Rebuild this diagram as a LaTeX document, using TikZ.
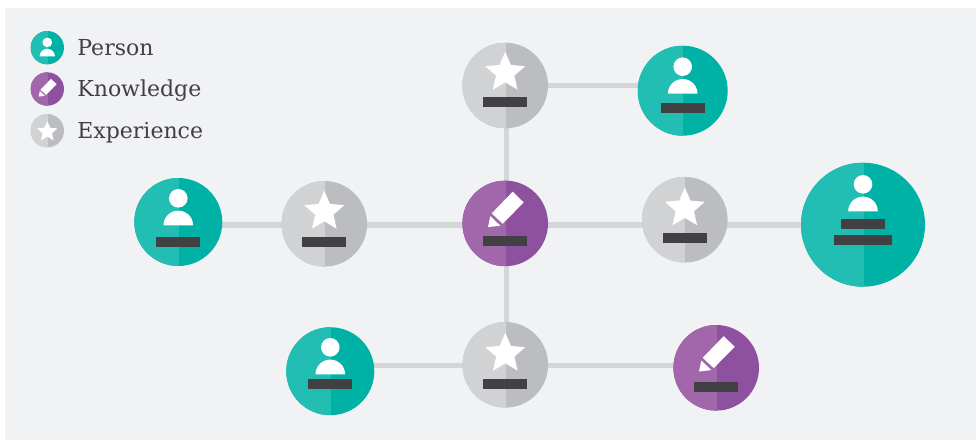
\documentclass[tikz,border=0pt]{standalone}
\usepackage{fontspec}
\setmainfont{DejaVu Serif}
\usetikzlibrary{positioning, backgrounds}

\definecolor{tealA}{HTML}{22BDB3}
\definecolor{tealB}{HTML}{00B2A5}
\definecolor{plumA}{HTML}{A266AB}
\definecolor{plumB}{HTML}{8E519F}
\definecolor{greyA}{HTML}{D1D2D4}
\definecolor{greyB}{HTML}{BCBDC0}
\definecolor{linkgrey}{HTML}{D5D6D8}
\definecolor{darkbar}{HTML}{414042}
\definecolor{panel}{HTML}{F1F2F4}

\tikzset{halfdisc/.style 2 args={circle,inner sep=0pt,fill=#2,path picture={
  \fill[#1] (path picture bounding box.south west) rectangle ([xshift=.5pt]path picture bounding box.north);}}}
\tikzset{person/.style={halfdisc={tealA}{tealB}}}
\tikzset{knowledge/.style={halfdisc={plumA}{plumB}}}
\tikzset{experience/.style={halfdisc={greyA}{greyB}}}
\tikzset{link/.style={draw=linkgrey,line width=5.5pt}}
\tikzset{barbox/.style={fill=darkbar,inner sep=0pt,minimum height=10pt,minimum width=#1}, barbox/.default=44pt}
\tikzset{legendtext/.style={text=darkbar,font=\fontsize{22}{24}\selectfont,inner sep=0pt,text height=14.6pt,text depth=0pt}}

% node, shift, scale
\newcommand{\personicon}[3]{\begin{scope}[shift={(#1.center)},yshift=#2pt,scale=#3]
  \fill[white] (0,0) circle (9.3);
  \fill[white] (-14.8,-27) arc (180:0:14.8 and 14.7) -- cycle;
\end{scope}}
\newcommand{\pencilicon}[3]{\begin{scope}[shift={(#1.center)},yshift=#2pt,scale=#3]
  \fill[white] (7.5,31.7) -- (18.5,21) -- (-2.5,-.3) -- (-13.5,10) -- cycle;
  \fill[white] (-14.9,7.3) -- (-4.9,-2.3) -- (-17.2,-3.7) -- cycle;
\end{scope}}
\newcommand{\staricon}[3]{\begin{scope}[shift={(#1.center)},yshift=#2pt,scale=#3]
  \fill[white] (90:21) -- (126:9.6) -- (162:21) -- (198:9.6) -- (234:21) -- (270:9.6) -- (306:21) -- (342:9.6) -- (18:21) -- (54:9.6) -- cycle;
\end{scope}}

\begin{document}
\begin{tikzpicture}[x=1pt,y=1pt]
  \useasboundingbox (0,0) rectangle (976,-440);
  \node[person,minimum size=88pt]      (Pleft)   at (178.3,-222)   {};
  \node[person,minimum size=90pt]      (Ptop)    at (682.7,-90.7)  {};
  \node[person,minimum size=88pt]      (Pbottom) at (330.3,-371.2) {};
  \node[person,minimum size=124pt]     (Pbig)    at (863,-224.7)   {};
  \node[experience,minimum size=85.6pt] (Eleft)   at (324.3,-223.8) {};
  \node[experience,minimum size=85.6pt] (Etop)    at (505.2,-85.5)  {};
  \node[experience,minimum size=85.6pt] (Eright)  at (684.8,-219.7) {};
  \node[experience,minimum size=85.6pt] (Ebottom) at (505.3,-364.8) {};
  \node[knowledge,minimum size=85.6pt]  (Kmid)    at (505.2,-223.4) {};
  \node[knowledge,minimum size=85.6pt]  (Kright)  at (716.2,-367.8) {};

  \coordinate (midrow) at (0,-225);
  \coordinate (toprow) at (0,-85.7);
  \coordinate (lowrow) at (0,-365.3);
  \coordinate (column) at (506.5,0);

  \begin{pgfonlayer}{background}
  \fill[panel] (5,-8) rectangle (976,-440);
  \draw[link] (Pleft |- midrow) -- (Eleft |- midrow);
  \draw[link] (Eleft |- midrow) -- (Kmid |- midrow);
  \draw[link] (Kmid |- midrow) -- (Eright |- midrow);
  \draw[link] (Eright |- midrow) -- (Pbig |- midrow);
  \draw[link] (Etop |- toprow) -- (Ptop |- toprow);
  \draw[link] (Pbottom |- lowrow) -- (Ebottom |- lowrow);
  \draw[link] (Ebottom |- lowrow) -- (Kright |- lowrow);
  \draw[link] (column |- Etop) -- (column |- Kmid);
  \draw[link] (column |- Kmid) -- (column |- Ebottom);
  \end{pgfonlayer}

  \foreach \n/\h/\b in {Pleft/23.7/-20,Ptop/24/-17.3,Pbottom/23.9/-12.8}{
    \personicon{\n}{\h}{1}
    \node[barbox] (\n bar) at ([yshift=\b pt]\n.center) {};
  }
  \personicon{Pbig}{40.4}{1}
  \node[barbox]      (Pbig bar)  at ([yshift=.7pt]Pbig.center) {};
  \node[barbox=58pt] (Pbig barb) at ([yshift=-15.3pt]Pbig.center) {};

  \foreach \n/\h/\b in {Eleft/12.1/-18.2,Etop/12.8/-16.5,Eright/11.4/-18.3,Ebottom/11.1/-19.2}{
    \staricon{\n}{\h}{1}
    \node[barbox] (\n bar) at ([yshift=\b pt]\n.center) {};
  }
  \foreach \n/\b in {Kmid/-17.6,Kright/-19.2}{
    \pencilicon{\n}{0}{1}
    \node[barbox] (\n bar) at ([yshift=\b pt]\n.center) {};
  }

  % legend
  \node[person,minimum size=33.4pt]     (lperson)     at (47.3,-47.7) {};
  \node[knowledge,minimum size=33.4pt]  (lknowledge)  at (47.3,-89)   {};
  \node[experience,minimum size=33.4pt] (lexperience) at (47.3,-130.7) {};
  \personicon{lperson}{5.3}{.52}
  \pencilicon{lknowledge}{-5.7}{.5}
  \staricon{lexperience}{-1}{.51}
  \node[legendtext,right=13pt of lperson]     (tperson)     {Person};
  \node[legendtext,right=13pt of lknowledge]  (tknowledge)  {Knowledge};
  \node[legendtext,right=13pt of lexperience] (texperience) {Experience};
\end{tikzpicture}
\end{document}
